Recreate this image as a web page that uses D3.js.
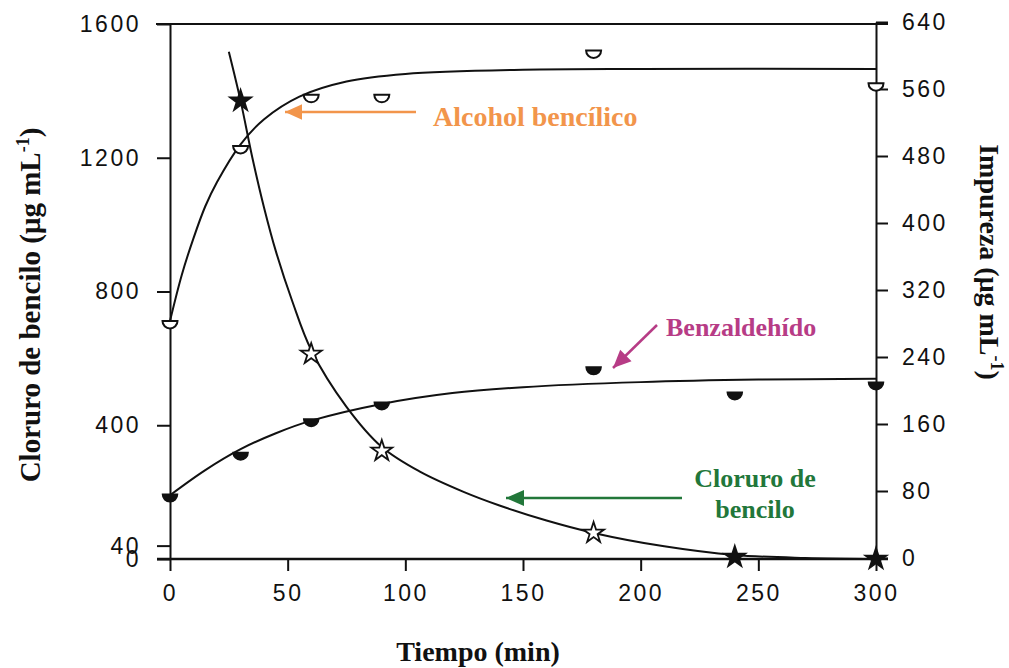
<!DOCTYPE html>
<html>
<head>
<meta charset="utf-8">
<script src="https://cdn.jsdelivr.net/npm/d3@7"></script>
<style>
  body { margin: 0; background: #fff; }
  svg text { font-family: "Liberation Sans", Arial, sans-serif; }
  .serif { font-family: "Liberation Serif", "Times New Roman", serif !important; font-weight: bold; }
</style>
</head>
<body>
<svg width="1009" height="668"></svg>
<script>
// measured points (time in min)
const alcoholTimes = [0, 30, 60, 90, 180, 300];
const alcoholValues = [283, 492, 553, 553, 606, 567];           // right axis
const benzTimes = [0, 30, 60, 90, 180, 240, 300];
const benzValues = [76, 126, 166, 186, 228, 198, 210];          // right axis
const clorTimes = [30, 60, 90, 180, 240, 300];
const clorValues = [1370, 613, 323, 78, 6, 0];                  // left axis
const clorFilled = [true, false, false, false, true, true];

// fitted curves
const alcoholFitT = [0, 5, 10, 15, 20, 30, 40, 55, 75, 100, 150, 200, 300];
const alcoholFitV = [283, 338, 382, 420, 449, 494, 524, 551, 569, 578, 583, 584, 584];
const benzFitT = [0, 15, 30, 45, 60, 90, 120, 150, 200, 250, 300];
const benzFitV = [75, 105, 130, 149, 164, 184, 197, 204, 210, 213, 214];
const clorFitT = [25, 30, 35, 40, 45, 52, 60, 75, 90, 106, 125, 140, 160, 180, 210, 240, 270, 300];
const clorFitV = [1517, 1370, 1200, 1050, 920, 770, 625, 455, 335, 262, 200, 160, 115, 78, 38, 12, 3, 0];

const xTicks = [0, 50, 100, 150, 200, 250, 300];
const leftTicks = [0, 40, 400, 800, 1200, 1600];
const rightTicks = [0, 80, 160, 240, 320, 400, 480, 560, 640];

const svg = d3.select("svg");
const x = d3.scaleLinear().domain([0, 300]).range([170, 876]);
const yL = d3.scaleLinear().domain([0, 1600]).range([559, 24]);
const yR = d3.scaleLinear().domain([0, 640]).range([558, 22]);

// axes
const xAxis = d3.axisBottom(x).tickValues(xTicks).tickSize(12).tickPadding(14).tickFormat(d3.format("d"));
const gx = svg.append("g").attr("transform", "translate(0,559)").call(xAxis);
gx.select(".domain").remove();

const lAxis = d3.axisLeft(yL).tickValues(leftTicks).tickSize(13).tickPadding(16).tickSizeOuter(0)
  .tickFormat(d3.format("d"));
const gl = svg.append("g").attr("transform", "translate(170,0)").call(lAxis);

const rAxis = d3.axisRight(yR).tickValues(rightTicks).tickSize(12).tickPadding(14).tickSizeOuter(0)
  .tickFormat(d3.format("d"));
const gr = svg.append("g").attr("transform", "translate(876,0)").call(rAxis);

[gx, gl, gr].forEach(g => {
  g.selectAll("text").attr("font-size", 23).attr("fill", "#111").style("letter-spacing", "2.5px");
  g.selectAll("line, path").attr("stroke", "#111").attr("stroke-width", 2);
});

// frame lines
svg.append("line").attr("x1", 156).attr("x2", 888).attr("y1", yL(1600)).attr("y2", yL(1600))
  .attr("stroke", "#111").attr("stroke-width", 2);
svg.append("line").attr("x1", 157).attr("x2", 888).attr("y1", 559).attr("y2", 559)
  .attr("stroke", "#111").attr("stroke-width", 2.5);

// curves
const lineR = d3.line().x(d => x(d[0])).y(d => yR(d[1])).curve(d3.curveCatmullRom);
const lineL = d3.line().x(d => x(d[0])).y(d => yL(d[1])).curve(d3.curveCatmullRom);
svg.append("path").attr("d", lineR(d3.zip(alcoholFitT, alcoholFitV)))
  .attr("fill", "none").attr("stroke", "#111").attr("stroke-width", 2);
svg.append("path").attr("d", lineR(d3.zip(benzFitT, benzFitV)))
  .attr("fill", "none").attr("stroke", "#111").attr("stroke-width", 2);
svg.append("path").attr("d", lineL(d3.zip(clorFitT, clorFitV)))
  .attr("fill", "none").attr("stroke", "#111").attr("stroke-width", 2);

// half-circle markers (flat side up)
const r = 7.5;
const halfDisc = `M${-r},0 A${r},${r} 0 0,0 ${r},0 Z`;
svg.append("g").selectAll("path").data(d3.zip(alcoholTimes, alcoholValues)).join("path")
  .attr("transform", d => `translate(${x(d[0])},${yR(d[1])})`)
  .attr("d", halfDisc).attr("fill", "#fff").attr("stroke", "#111").attr("stroke-width", 2);
svg.append("g").selectAll("path").data(d3.zip(benzTimes, benzValues)).join("path")
  .attr("transform", d => `translate(${x(d[0])},${yR(d[1])})`)
  .attr("d", halfDisc).attr("fill", "#111").attr("stroke", "#111").attr("stroke-width", 1.5);

// stars
const star = d3.symbol().type(d3.symbolStar).size(135);
svg.append("g").selectAll("path").data(clorTimes.map((t, i) => [t, clorValues[i], clorFilled[i]])).join("path")
  .attr("transform", d => `translate(${x(d[0])},${yL(d[1])})`)
  .attr("d", star)
  .attr("fill", d => d[2] ? "#111" : "#fff")
  .attr("stroke", "#111").attr("stroke-width", 1.8);

// annotation arrows
function arrow(x1, y1, x2, y2, color, head) {
  svg.append("line").attr("x1", x1).attr("y1", y1).attr("x2", x2).attr("y2", y2)
    .attr("stroke", color).attr("stroke-width", 2.5);
  const a = Math.atan2(y2 - y1, x2 - x1) * 180 / Math.PI;
  svg.append("path").attr("d", `M0,0 L${-head},${-head * 0.45} L${-head},${head * 0.45} Z`)
    .attr("transform", `translate(${x2},${y2}) rotate(${a})`).attr("fill", color);
}
const orange = "#F2954B", magenta = "#B73C86", green = "#22773A";
arrow(416, 112, 285, 112, orange, 17);
arrow(657, 325, 613, 368, magenta, 18);
arrow(682, 498, 506, 498, green, 18);

svg.append("text").attr("class", "serif").attr("x", 433).attr("y", 126)
  .attr("font-size", 28).attr("fill", orange).text("Alcohol bencílico");
svg.append("text").attr("class", "serif").attr("x", 666).attr("y", 336)
  .attr("font-size", 26).attr("fill", magenta).text("Benzaldehído");
svg.append("text").attr("class", "serif").attr("x", 755).attr("y", 487).attr("text-anchor", "middle")
  .attr("font-size", 26).attr("fill", green).text("Cloruro de");
svg.append("text").attr("class", "serif").attr("x", 755).attr("y", 518).attr("text-anchor", "middle")
  .attr("font-size", 26).attr("fill", green).text("bencilo");

// axis titles
svg.append("text").attr("class", "serif").attr("x", 478).attr("y", 661).attr("text-anchor", "middle")
  .attr("font-size", 28).attr("fill", "#111").text("Tiempo (min)");

const tl = svg.append("text").attr("class", "serif").attr("text-anchor", "middle")
  .attr("transform", "translate(40,305) rotate(-90)").attr("font-size", 29).attr("fill", "#111");
tl.append("tspan").text("Cloruro de bencilo (μg mL");
tl.append("tspan").attr("dy", -11).attr("font-size", 18).text("-1");
tl.append("tspan").attr("dy", 11).text(")");

const tr = svg.append("text").attr("class", "serif").attr("text-anchor", "middle")
  .attr("transform", "translate(980,262) rotate(90)").attr("font-size", 28).attr("fill", "#111");
tr.append("tspan").text("Impureza (μg mL");
tr.append("tspan").attr("dy", -11).attr("font-size", 18).text("-1");
tr.append("tspan").attr("dy", 11).text(")");
</script>
</body>
</html>
